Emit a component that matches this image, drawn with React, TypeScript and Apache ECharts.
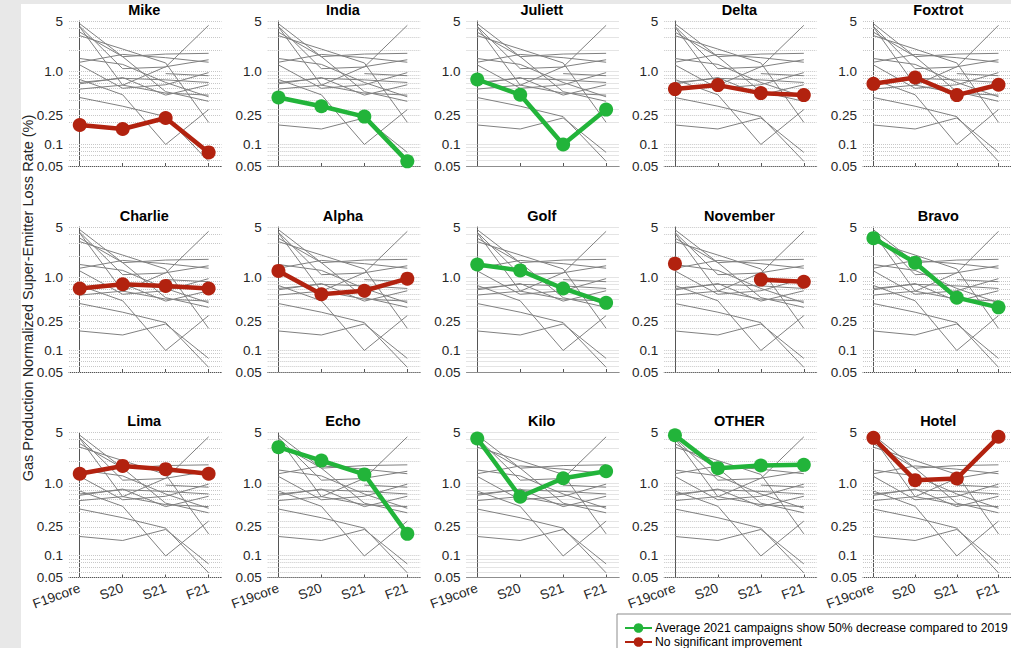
import React, { useEffect, useRef } from 'react';
import * as echarts from 'echarts';

const categories = ['F19core', 'S20', 'S21', 'F21'];

const sites = [
  'Mike', 'India', 'Juliett', 'Delta', 'Foxtrot',
  'Charlie', 'Alpha', 'Golf', 'November', 'Bravo',
  'Lima', 'Echo', 'Kilo', 'OTHER', 'Hotel',
];

// Loss rate (%) per campaign: F19core, S20, S21, F21
const mike = [0.184, 0.162, 0.23, 0.077];
const india = [0.44, 0.334, 0.24, 0.058];
const juliett = [0.78, 0.48, 0.099, 0.3];
const delta = [0.575, 0.653, 0.506, 0.475];
const foxtrot = [0.68, 0.83, 0.475, 0.66];
const charlie = [0.71, 0.81, 0.77, 0.71];
const alpha = [1.24, 0.59, 0.66, 0.97];
const golf = [1.52, 1.26, 0.71, 0.45];
const november = [1.56, null, 0.94, 0.88];
const bravo = [3.51, 1.61, 0.53, 0.39];
const lima = [1.35, 1.73, 1.56, 1.35];
const echo = [3.14, 2.05, 1.32, 0.2];
const kilo = [4.13, 0.65, 1.17, 1.46];
const other = [4.59, 1.61, 1.75, 1.79];
const hotel = [4.22, 1.1, 1.16, 4.36];

const siteValues: (number | null)[][] = [
  mike, india, juliett, delta, foxtrot,
  charlie, alpha, golf, november, bravo,
  lima, echo, kilo, other, hotel,
];

// true = average 2021 campaigns show 50% decrease
const improved = [
  false, true, true, false, false,
  false, false, true, false, true,
  false, true, true, true, false,
];

const legendNames = [
  'Average 2021 campaigns show 50% decrease compared to 2019',
  'No significant improvement',
];

const yTicks = [0.05, 0.1, 0.25, 1, 5];
const yTickLabels = ['0.05', '0.1', '0.25', '1.0', '5'];
const gridValues = [
  0.05, 0.06, 0.07, 0.08, 0.09,
  0.1, 0.2, 0.25, 0.3, 0.4, 0.5, 0.6, 0.7, 0.8, 0.9,
  1, 2, 3, 4, 5,
];

const FONT = '"Liberation Sans", Arial, Helvetica, sans-serif';
const GREEN = '#22b43a';
const RED = '#b2220f';

export default function App() {
  const ref = useRef<HTMLDivElement>(null);

  useEffect(() => {
    document.body.style.margin = '0';
    const chart = echarts.init(ref.current!, null, { renderer: 'svg' });

    const colLeft = [69, 267.7, 466.5, 664.2, 863];
    const rowTop = [21, 227, 432.5];
    const plotW = 152.5;
    const plotH = 145;

    const grids: any[] = [];
    const xAxes: any[] = [];
    const yAxes: any[] = [];
    const series: any[] = [];
    const graphics: any[] = [
      { type: 'rect', shape: { x: 0, y: 0, width: 21, height: 648 }, style: { fill: '#e8e8e8' }, silent: true, z: -10 },
      { type: 'rect', shape: { x: 0, y: 0, width: 1011, height: 4 }, style: { fill: '#e8e8e8' }, silent: true, z: -10 },
      {
        type: 'text', x: 28, y: 298, rotation: Math.PI / 2, silent: true,
        style: {
          text: 'Gas Production Normalized Super-Emitter Loss Rate (%)',
          align: 'center', verticalAlign: 'middle',
          fontSize: 14.5, fontFamily: FONT, fill: '#262626',
        },
      },
    ];

    sites.forEach((site, k) => {
      const r = Math.floor(k / 5);
      const c = k % 5;
      const bottomRow = r === 2;
      grids.push({ left: colLeft[c], top: rowTop[r], width: plotW, height: plotH, containLabel: false });
      xAxes.push({
        type: 'value', gridIndex: k, min: -0.25, max: 3.3,
        axisLine: { show: true, lineStyle: { color: '#555', width: 1 } },
        axisTick: { show: true, inside: true, length: 3, customValues: [0, 1, 2, 3], lineStyle: { color: '#555' } },
        splitLine: { show: false },
        axisLabel: {
          show: bottomRow, customValues: [0, 1, 2, 3], rotate: 20, margin: 10,
          formatter: (v: number) => categories[Math.round(v)] ?? '',
          fontSize: 13.5, fontFamily: FONT, color: '#262626',
        },
      });
      yAxes.push({
        type: 'log', logBase: 10, gridIndex: k, min: 0.05, max: 5,
        axisLine: { show: true, lineStyle: { color: '#555', width: 1 } },
        axisTick: { show: false },
        splitLine: { show: false },
        axisLabel: {
          customValues: yTicks, margin: 6,
          formatter: (v: number) => {
            const i = yTicks.findIndex((t) => Math.abs(Math.log10(t) - Math.log10(v)) < 1e-6);
            return i >= 0 ? yTickLabels[i] : '';
          },
          fontSize: 13.5, fontFamily: FONT, color: '#262626',
        },
      });

      siteValues.forEach((vals, j) => {
        const s: any = {
          type: 'line', xAxisIndex: k, yAxisIndex: k, silent: true,
          data: vals.map((v, i) => [i, v == null ? '-' : v]),
          symbol: 'none', lineStyle: { color: '#808080', width: 1 }, z: 2,
        };
        if (j === 0) {
          s.markLine = {
            silent: true, symbol: ['none', 'none'], z: 1,
            label: { show: false },
            lineStyle: { type: 'dotted', color: '#c8c8c8', width: 1 },
            data: gridValues.map((g) => ({ yAxis: g })),
          };
        }
        series.push(s);
      });

      const color = improved[k] ? GREEN : RED;
      series.push({
        type: 'line', name: improved[k] ? legendNames[0] : legendNames[1],
        xAxisIndex: k, yAxisIndex: k,
        data: siteValues[k].map((v, i) => [i, v == null ? '-' : v]),
        symbol: 'circle', symbolSize: 14,
        itemStyle: { color },
        lineStyle: { color, width: 4.5 },
        z: 5,
      });

      graphics.push({
        type: 'text', x: colLeft[c] + plotW / 2 - 1, y: rowTop[r] - 11.5, silent: true,
        style: {
          text: site, align: 'center', verticalAlign: 'middle',
          fontSize: 14.5, fontWeight: 'bold', fontFamily: FONT, fill: '#000',
        },
      });
    });

    chart.setOption({
      animation: false,
      backgroundColor: '#fff',
      grid: grids,
      xAxis: xAxes,
      yAxis: yAxes,
      series,
      graphic: graphics,
      legend: {
        data: legendNames,
        orient: 'vertical',
        left: 617, top: 614, height: 80, width: 420,
        padding: [8, 40, 10, 7],
        itemWidth: 27, itemHeight: 12, itemGap: 2,
        backgroundColor: '#fff', borderColor: '#8c8c8c', borderWidth: 1,
        textStyle: { fontSize: 12.2, fontFamily: FONT, color: '#000', padding: [0, 0, 0, -2] },
      },
    });

    return () => chart.dispose();
  }, []);

  return <div ref={ref} style={{ width: 1011, height: 648 }} />;
}
